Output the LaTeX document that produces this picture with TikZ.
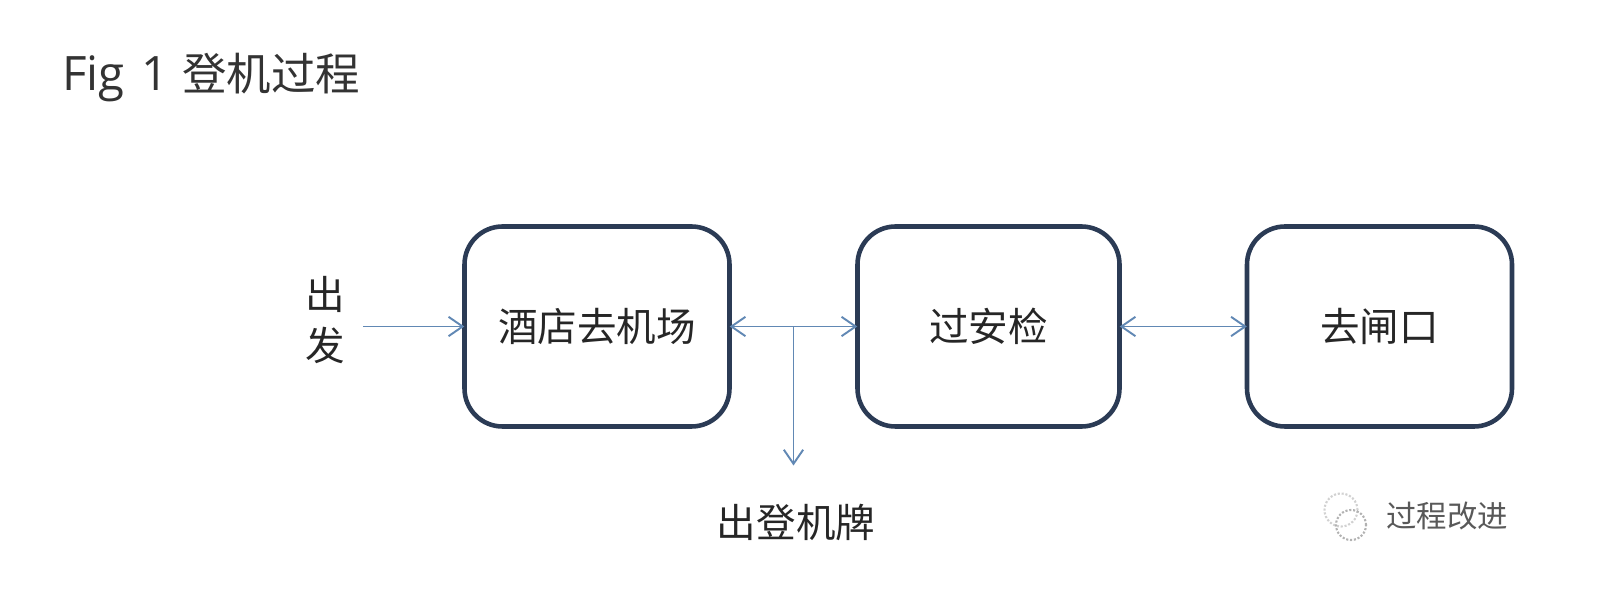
\documentclass[tikz,border=0pt]{standalone}
\usepackage{xcolor}
\usepackage{fontspec}
\usepackage{tikz}
\usetikzlibrary{positioning,arrows.meta,calc}
\setmainfont{Open Sans}
\newfontfamily\cjk{Noto Sans CJK SC}
\definecolor{boxline}{HTML}{2B3B55}
\definecolor{flowline}{HTML}{6188B4}
\tikzset{
    stagebox/.style={draw=boxline,line width=2.6pt,rounded corners=0.76cm,minimum width=5.3cm,minimum height=4cm,inner sep=0pt,font=\cjk\fontsize{22.5}{27}\selectfont,text=black!85},
    flow/.style={draw=flowline,line width=1.1pt,shorten >=-1.2pt,-{Straight Barb[length=8pt,width=11pt]}},
    twoway/.style={flow,shorten <=-1.2pt,{Straight Barb[length=8pt,width=11pt]}-{Straight Barb[length=8pt,width=11pt]}},
    plainlabel/.style={inner sep=0pt,font=\cjk\fontsize{22.5}{27}\selectfont,text=black!85}
}
\begin{document}
\begin{tikzpicture}
    \useasboundingbox (0,0) rectangle (32.3,11.86);
    % Title
    \node[anchor=west,inner sep=0pt,font=\fontsize{27}{31}\selectfont,text=black!80] (title) at (1.24,10.31) {Fig\hspace{0.35em}1\hspace{0.29em}{\cjk\fontsize{25.3}{31}\selectfont 登机过程}};

    % Stages
    \node[stagebox] (hotel) at (11.94,5.33) {酒店去机场};
    \node[stagebox,minimum width=5.24cm] (security) at (19.77,5.33) {过安检};
    \node[stagebox] (gate) at (27.59,5.33) {去闸口};
    \node[plainlabel,align=center,font=\cjk\fontsize{22.5}{29}\selectfont] (start) at (6.5,5.45) {出\\发};

    % Connectors
    \coordinate (startend) at (7.26,5.33);
    \coordinate (branch) at ($(hotel.east)!0.5!(security.west)$);
    \coordinate (branchend) at ($(branch)+(0,-2.78)$);
    \node[plainlabel] (pass) at (15.92,1.41) {出登机牌};
    \draw[flow] (startend) -- (hotel.west);
    \draw[twoway] (hotel.east) -- (security.west);
    \draw[twoway] (security.east) -- (gate.west);
    \draw[flow,shorten >=0pt] (branch) -- (branchend);

    % Watermark
    \node[inner sep=0pt,font=\cjk\fontsize{17.3}{20}\selectfont,text=black!65] (mark) at (28.94,1.53) {过程改进};
    \draw[black!18,line width=1.2pt,densely dotted] (26.82,1.66) circle (0.33);
    \draw[black!30,line width=1.2pt,densely dotted] (27.02,1.36) circle (0.3);
\end{tikzpicture}
\end{document}
